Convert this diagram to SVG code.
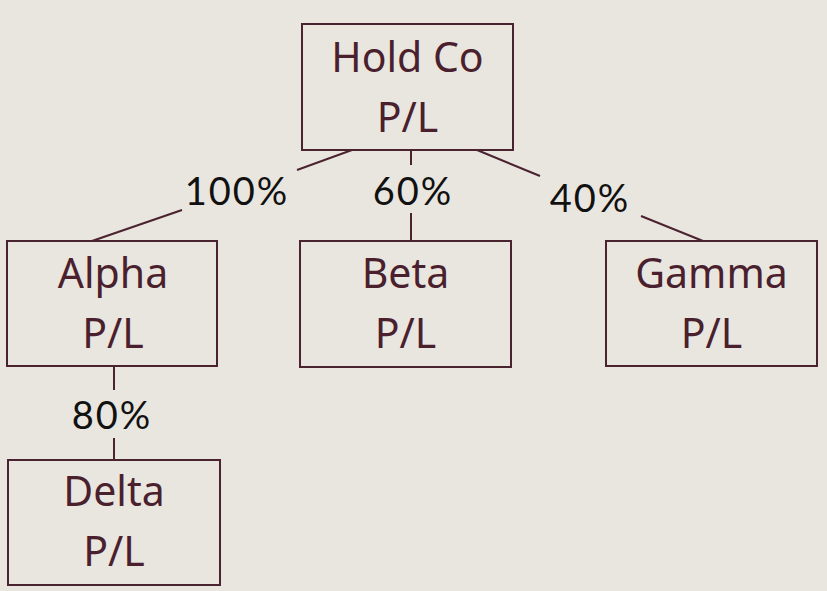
<svg xmlns="http://www.w3.org/2000/svg" width="827" height="591" viewBox="0 0 827 591">
<style>
.box{fill:none;stroke:#4a2230;stroke-width:2}
.t{font-family:"Noto Sans","Open Sans",sans-serif;font-size:41px;fill:#4a1f2e;text-anchor:middle}
.p{font-family:"Lato","Noto Sans",sans-serif;font-size:38px;letter-spacing:2px;fill:#111;text-anchor:middle}
.c line{stroke:#4a2230;stroke-width:2}
</style>
<rect width="827" height="591" fill="#e9e6df"/>
<g class="c" id="connectors">
<line x1="352" y1="150" x2="297" y2="170"/>
<line x1="182" y1="210" x2="92" y2="241"/>
<line x1="411" y1="150" x2="411" y2="165"/>
<line x1="411" y1="213" x2="411" y2="241"/>
<line x1="477" y1="150" x2="540" y2="176"/>
<line x1="641" y1="216" x2="703" y2="241"/>
<line x1="114" y1="367" x2="114" y2="390"/>
<line x1="114" y1="438" x2="114" y2="460"/>
<text class="p" x="237" y="205">100%</text>
<text class="p" x="413" y="205">60%</text>
<text class="p" x="590" y="212">40%</text>
<text class="p" x="112" y="429">80%</text>
</g>
<g id="holdco"><rect class="box" x="302" y="24" width="211" height="126"/><text class="t" x="407.5" y="72">Hold Co</text><text class="t" x="407.5" y="132">P/L</text></g>
<g id="alpha"><rect class="box" x="7" y="241" width="210" height="125"/><text class="t" x="113" y="288">Alpha</text><text class="t" x="113" y="348">P/L</text></g>
<g id="beta"><rect class="box" x="300" y="241" width="211" height="126"/><text class="t" x="405.5" y="288">Beta</text><text class="t" x="405.5" y="348">P/L</text></g>
<g id="gamma"><rect class="box" x="606" y="241" width="211" height="125"/><text class="t" x="711.5" y="288">Gamma</text><text class="t" x="711.5" y="348">P/L</text></g>
<g id="delta"><rect class="box" x="8" y="460" width="212" height="125"/><text class="t" x="114" y="506">Delta</text><text class="t" x="114" y="566">P/L</text></g>
</svg>
